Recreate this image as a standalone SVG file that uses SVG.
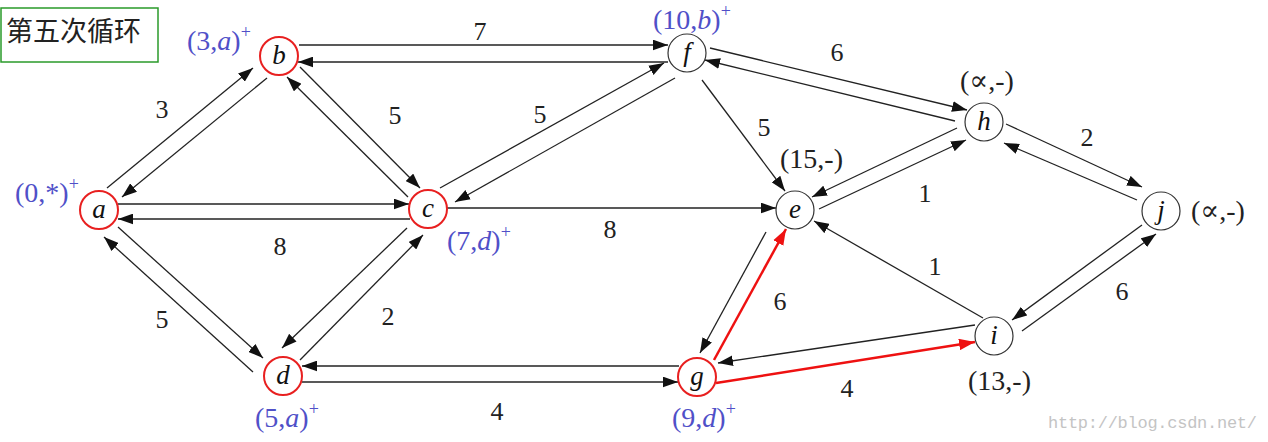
<svg xmlns="http://www.w3.org/2000/svg" width="1268" height="442" viewBox="0 0 1268 442">
<defs>
<marker id="ah" viewBox="0 0 14 10" refX="14" refY="5" markerWidth="15" markerHeight="11" markerUnits="userSpaceOnUse" orient="auto"><path d="M0,0 L14,5 L0,10 z" fill="#111"/></marker>
<marker id="ahr" viewBox="0 0 14 10" refX="14" refY="5" markerWidth="16" markerHeight="12" markerUnits="userSpaceOnUse" orient="auto"><path d="M0,0 L14,5 L0,10 z" fill="#ee1111"/></marker>
<style>
.e{stroke:#222;stroke-width:1.3;fill:none;marker-end:url(#ah)}
.r{stroke:#ee1111;stroke-width:2.5;fill:none;marker-end:url(#ahr)}
.nr{fill:#fff;stroke:#e82020;stroke-width:2}
.nb{fill:#fff;stroke:#333;stroke-width:1.2}
.nl{font-family:'Liberation Serif','Times New Roman',serif;font-style:italic;font-size:27px;fill:#111;text-anchor:middle}
.w{font-family:'Liberation Serif','Times New Roman',serif;font-size:26px;fill:#222;text-anchor:middle}
.lb{font-family:'Liberation Serif','Times New Roman',serif;font-size:28px;fill:#5050c8}
.lk{font-family:'Liberation Serif','Times New Roman','DejaVu Serif',serif;font-size:28px;fill:#222}
.sp{font-size:18px}
.it{font-style:italic}
</style>
</defs>
<g id="title">
<rect x="1" y="8" width="157" height="54" fill="#fff" stroke="#2a9a2a" stroke-width="1.5"/>
<text x="6" y="41" font-family="'Noto Sans CJK SC',sans-serif" font-size="27" fill="#222">第五次循环</text>
</g>
<g id="connectors">
<line class="e" x1="107" y1="188" x2="253" y2="68"/>
<line class="e" x1="267" y1="78" x2="122" y2="197"/>
<line class="e" x1="118" y1="204" x2="409" y2="204"/>
<line class="e" x1="410" y1="219" x2="118" y2="219"/>
<line class="e" x1="118" y1="227" x2="263" y2="358"/>
<line class="e" x1="253" y1="372" x2="104" y2="237"/>
<line class="e" x1="300" y1="67" x2="420" y2="188"/>
<line class="e" x1="408" y1="197" x2="287" y2="77"/>
<line class="e" x1="299" y1="45" x2="668" y2="45"/>
<line class="e" x1="668" y1="62" x2="298" y2="62"/>
<line class="e" x1="440" y1="188" x2="664" y2="63"/>
<line class="e" x1="675" y1="78" x2="455" y2="202"/>
<line class="e" x1="702" y1="80" x2="785" y2="191"/>
<line class="e" x1="710" y1="48" x2="967" y2="110"/>
<line class="e" x1="955" y1="121" x2="705" y2="60"/>
<line class="e" x1="957" y1="128" x2="812" y2="197"/>
<line class="e" x1="819" y1="209" x2="966" y2="140"/>
<line class="e" x1="447" y1="208" x2="776" y2="208"/>
<line class="e" x1="1006" y1="124" x2="1142" y2="187"/>
<line class="e" x1="1137" y1="200" x2="1004" y2="143"/>
<line class="e" x1="983" y1="318" x2="814" y2="221"/>
<line class="e" x1="1142" y1="225" x2="1012" y2="320"/>
<line class="e" x1="1022" y1="331" x2="1156" y2="234"/>
<line class="e" x1="766" y1="232" x2="700" y2="353"/>
<line class="r" x1="714" y1="360" x2="786" y2="229"/>
<line class="e" x1="679" y1="366" x2="302" y2="366"/>
<line class="e" x1="302" y1="382" x2="678" y2="382"/>
<line class="e" x1="407" y1="228" x2="282" y2="348"/>
<line class="e" x1="300" y1="360" x2="423" y2="235"/>
<line class="e" x1="975" y1="325" x2="718" y2="363"/>
<line class="r" x1="716" y1="383" x2="975" y2="342"/>
</g>
<g id="weights">
<text class="w" x="480" y="40">7</text>
<text class="w" x="162" y="118">3</text>
<text class="w" x="395" y="124">5</text>
<text class="w" x="540" y="123">5</text>
<text class="w" x="837" y="61">6</text>
<text class="w" x="764" y="136">5</text>
<text class="w" x="1087" y="146">2</text>
<text class="w" x="925" y="202">1</text>
<text class="w" x="280" y="255">8</text>
<text class="w" x="610" y="238">8</text>
<text class="w" x="388" y="325">2</text>
<text class="w" x="162" y="328">5</text>
<text class="w" x="780" y="310">6</text>
<text class="w" x="935" y="275">1</text>
<text class="w" x="1122" y="300">6</text>
<text class="w" x="497" y="420">4</text>
<text class="w" x="847" y="397">4</text>
</g>
<g id="node-a"><circle class="nr" cx="99" cy="210" r="19"/><text class="nl" x="99" y="218">a</text>
<text class="lb" x="15" y="202">(0,*)<tspan class="sp" dy="-12">+</tspan></text></g>
<g id="node-b"><circle class="nr" cx="279" cy="56" r="19"/><text class="nl" x="279" y="64">b</text>
<text class="lb" x="187" y="50">(3,<tspan class="it">a</tspan>)<tspan class="sp" dy="-12">+</tspan></text></g>
<g id="node-c"><circle class="nr" cx="428" cy="209" r="19"/><text class="nl" x="428" y="217">c</text>
<text class="lb" x="447" y="250">(7,<tspan class="it">d</tspan>)<tspan class="sp" dy="-12">+</tspan></text></g>
<g id="node-d"><circle class="nr" cx="283" cy="376" r="19"/><text class="nl" x="283" y="384">d</text>
<text class="lb" x="255" y="427">(5,<tspan class="it">a</tspan>)<tspan class="sp" dy="-12">+</tspan></text></g>
<g id="node-e"><circle class="nb" cx="795" cy="210" r="19"/><text class="nl" x="795" y="218">e</text>
<text class="lk" x="780" y="168">(15,-)</text></g>
<g id="node-f"><circle class="nb" cx="687" cy="53" r="19"/><text class="nl" x="687" y="61">f</text>
<text class="lb" x="653" y="29">(10,<tspan class="it">b</tspan>)<tspan class="sp" dy="-12">+</tspan></text></g>
<g id="node-g"><circle class="nr" cx="697" cy="377" r="19"/><text class="nl" x="697" y="385">g</text>
<text class="lb" x="672" y="427">(9,<tspan class="it">d</tspan>)<tspan class="sp" dy="-12">+</tspan></text></g>
<g id="node-h"><circle class="nb" cx="984" cy="122" r="19"/><text class="nl" x="984" y="130">h</text>
<text class="lk" x="960" y="90">(∝,-)</text></g>
<g id="node-i"><circle class="nb" cx="994" cy="336" r="19"/><text class="nl" x="994" y="344">i</text>
<text class="lk" x="968" y="390">(13,-)</text></g>
<g id="node-j"><circle class="nb" cx="1161" cy="211" r="19"/><text class="nl" x="1161" y="219">j</text>
<text class="lk" x="1191" y="220">(∝,-)</text></g>
<text x="1048" y="428" font-family="'Liberation Mono',monospace" font-size="17" fill="#c4c4c4" textLength="209">http://blog.csdn.net/</text>
</svg>
